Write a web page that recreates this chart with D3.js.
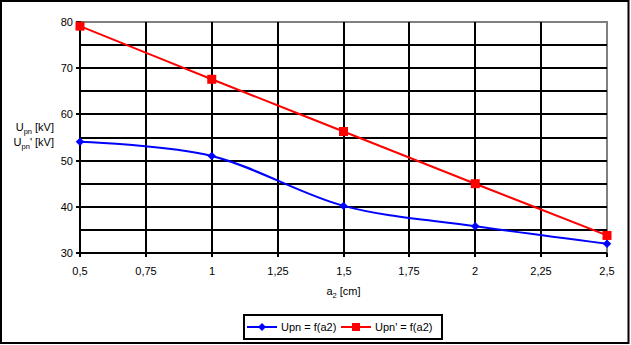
<!DOCTYPE html>
<html>
<head>
<meta charset="utf-8">
<script src="https://cdn.jsdelivr.net/npm/d3@7"></script>
<style>
  html, body { margin: 0; padding: 0; background: #fff; }
  svg { display: block; font-family: "Liberation Sans", Arial, sans-serif; }
</style>
</head>
<body>
<svg id="chart" width="631" height="345"></svg>
<script>
// a2 distance in cm
const a2 = [0.5, 1, 1.5, 2, 2.5];
// breakdown voltages in kV
const upn = [54.1, 51.0, 40.2, 35.8, 32.0];
const upnPrime = [79.1, 67.6, 56.3, 45.0, 33.8];

const xTicks = [0.5, 0.75, 1, 1.25, 1.5, 1.75, 2, 2.25, 2.5];
const yTicks = [30, 35, 40, 45, 50, 55, 60, 65, 70, 75, 80];
const yLabelTicks = [30, 40, 50, 60, 70, 80];

const seriesNames = ["Upn = f(a2)", "Upn' = f(a2)"];

const svg = d3.select("#chart");
const W = 631, H = 345;
const plot = { left: 80, right: 607, top: 22, bottom: 253 };

// outer frame
svg.append("rect")
  .attr("x", 1).attr("y", 1).attr("width", W - 3.5).attr("height", H - 3)
  .attr("fill", "#fff").attr("stroke", "#000").attr("stroke-width", 2);

const x = d3.scaleLinear().domain([0.5, 2.5]).range([plot.left, plot.right]);
const y = d3.scaleLinear().domain([30, 80]).range([plot.bottom, plot.top]);
const rx = v => Math.round(x(v));
const ry = v => Math.round(y(v));

// plot area border (top/right in grey)
svg.append("path")
  .attr("d", `M${plot.left},${plot.top}H${plot.right}V${plot.bottom}`)
  .attr("fill", "none").attr("stroke", "#808080").attr("stroke-width", 2);

// horizontal gridlines
svg.append("g").selectAll("line")
  .data(yTicks.filter(v => v !== 80 && v !== 30))
  .join("line")
  .attr("x1", plot.left).attr("x2", plot.right)
  .attr("y1", d => ry(d)).attr("y2", d => ry(d))
  .attr("stroke", "#000").attr("stroke-width", 2);

// vertical gridlines
svg.append("g").selectAll("line")
  .data(xTicks.filter(v => v !== 0.5 && v !== 2.5))
  .join("line")
  .attr("x1", d => rx(d)).attr("x2", d => rx(d))
  .attr("y1", plot.top).attr("y2", plot.bottom)
  .attr("stroke", "#000").attr("stroke-width", 2);

// y axis
const yAxis = d3.axisLeft(y)
  .tickValues(yLabelTicks)
  .tickSize(4)
  .tickPadding(3)
  .tickFormat(d3.format("d"));
const gy = svg.append("g").attr("transform", `translate(${plot.left},0)`).call(yAxis);
gy.select(".domain").attr("stroke", "#000").attr("stroke-width", 2)
  .attr("d", `M0,${plot.bottom}V${plot.top - 1}`);
gy.selectAll(".tick").attr("transform", d => `translate(0,${ry(d)})`);
gy.selectAll(".tick line").attr("stroke", "#000").attr("stroke-width", 2);
gy.selectAll(".tick text").attr("font-size", 11).attr("fill", "#000")
  .attr("font-family", "Liberation Sans, Arial, sans-serif");

// x axis
const xAxis = d3.axisBottom(x)
  .tickValues(xTicks)
  .tickSize(4)
  .tickPadding(10)
  .tickFormat(d => String(d).replace(".", ","));
const gx = svg.append("g").attr("transform", `translate(0,${plot.bottom})`).call(xAxis);
gx.select(".domain").attr("stroke", "#000").attr("stroke-width", 2)
  .attr("d", `M${plot.left - 1},0H${plot.right}`);
gx.selectAll(".tick").attr("transform", d => `translate(${rx(d)},0)`);
gx.selectAll(".tick line").attr("stroke", "#000").attr("stroke-width", 2);
gx.selectAll(".tick text").attr("font-size", 11).attr("fill", "#000")
  .attr("font-family", "Liberation Sans, Arial, sans-serif");

// axis titles
const xt = svg.append("text")
  .attr("x", (plot.left + plot.right) / 2).attr("y", 295)
  .attr("text-anchor", "middle").attr("font-size", 11);
xt.append("tspan").text("a");
xt.append("tspan").attr("font-size", 7.5).attr("dy", 2.5).text("2");
xt.append("tspan").attr("dy", -2.5).text(" [cm]");

const yt1 = svg.append("text").attr("x", 54).attr("y", 131)
  .attr("text-anchor", "end").attr("font-size", 11);
yt1.append("tspan").text("U");
yt1.append("tspan").attr("font-size", 7.5).attr("dy", 2.5).text("pn");
yt1.append("tspan").attr("dy", -2.5).text(" [kV]");

const yt2 = svg.append("text").attr("x", 54).attr("y", 146)
  .attr("text-anchor", "end").attr("font-size", 11);
yt2.append("tspan").text("U");
yt2.append("tspan").attr("font-size", 7.5).attr("dy", 2.5).text("pn");
yt2.append("tspan").attr("dy", -2.5).text("' [kV]");

// series
const line = d3.line()
  .x(d => x(d[0])).y(d => y(d[1]))
  .curve(d3.curveCardinal.tension(0));

const blueData = a2.map((v, i) => [v, upn[i]]);
const redData = a2.map((v, i) => [v, upnPrime[i]]);

svg.append("path").datum(redData).attr("d", line)
  .attr("fill", "none").attr("stroke", "#ff0000").attr("stroke-width", 2);
svg.append("path").datum(blueData).attr("d", line)
  .attr("fill", "none").attr("stroke", "#0000ff").attr("stroke-width", 2);

svg.append("g").selectAll("path").data(blueData).join("path")
  .attr("d", d3.symbol().type(d3.symbolSquare).size(36))
  .attr("transform", d => `translate(${x(d[0])},${y(d[1])}) rotate(45)`)
  .attr("fill", "#0000ff");
svg.append("g").selectAll("rect").data(redData).join("rect")
  .attr("x", d => x(d[0]) - 4.5).attr("y", d => y(d[1]) - 4.5)
  .attr("width", 9).attr("height", 9)
  .attr("fill", "#ff0000");

// legend
const lg = svg.append("g");
lg.append("rect").attr("x", 244).attr("y", 315).attr("width", 198).attr("height", 24)
  .attr("fill", "#fff").attr("stroke", "#000").attr("stroke-width", 2);
const legendItems = [
  { name: seriesNames[0], color: "#0000ff", x0: 247, shape: "diamond" },
  { name: seriesNames[1], color: "#ff0000", x0: 341, shape: "square" }
];
legendItems.forEach(it => {
  lg.append("line").attr("x1", it.x0).attr("x2", it.x0 + 30)
    .attr("y1", 327).attr("y2", 327)
    .attr("stroke", it.color).attr("stroke-width", 2);
  if (it.shape === "diamond") {
    lg.append("path").attr("d", d3.symbol().type(d3.symbolSquare).size(32))
      .attr("transform", `translate(${it.x0 + 15},327) rotate(45)`)
      .attr("fill", it.color);
  } else {
    lg.append("rect").attr("x", it.x0 + 11).attr("y", 323)
      .attr("width", 8).attr("height", 8).attr("fill", it.color);
  }
  lg.append("text").attr("x", it.x0 + 34).attr("y", 331)
    .attr("font-size", 11).attr("fill", "#000").text(it.name);
});
</script>
</body>
</html>
